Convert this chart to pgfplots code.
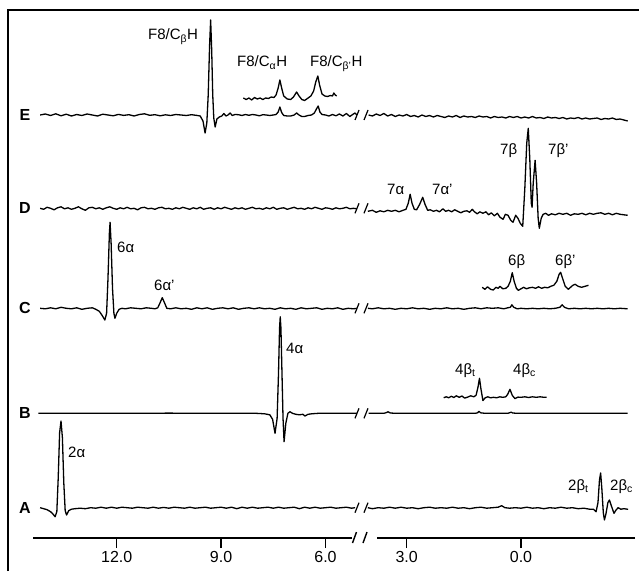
\documentclass[border=0pt]{standalone}
\usepackage{fontspec}
\setmainfont{Liberation Sans}
\usepackage{pgfplots}
\pgfplotsset{compat=1.18}

\pgfplotsset{
  trace/.style={black,line width=1.3pt,line join=round},
  spec/.style={scale only axis,anchor=south west,height=538pt,
    ymin=33,ymax=571,x dir=reverse,clip=false,
    axis x line*=bottom,axis y line=none,
    x axis line style={line width=1.8pt,-},
    tick align=outside,major tick length=10pt,
    every tick/.style={black,line width=1.4pt},
    xticklabel style={font=\fontsize{16}{18}\selectfont},
  },
}
\newcommand\lab[3]{\node[anchor=base west,inner sep=0pt,font=\fontsize{15}{17}\selectfont] at (#1pt,#2pt) {#3};}

\begin{document}
\begin{tikzpicture}
\useasboundingbox (0,0) rectangle (639pt,571pt);
\draw[line width=2pt] (8pt,0pt) -- (8pt,561pt) -- (639pt,561pt);

% left part: 14.4 .. 5.2 ppm
\begin{axis}[spec,at={(33pt,33pt)},width=319pt,xmin=5.238,xmax=14.405,
  xtick={6,9,12},xticklabels={6.0,9.0,12.0}]
% E
\addplot[trace,y filter/.expression={y+456}] coordinates {
(14.2,0) (14.05,1) (13.9,-0.5) (13.75,1.2) (13.6,-0.8) (13.45,0.8) (13.3,-1) (13.15,0.5) (13.0,-0.5) (12.85,1) (12.7,0) (12.55,-1) (12.4,0.8) (12.25,0) (12.1,-0.8) (11.95,0.6) (11.8,-0.4) (11.65,0.3) (11.5,-1) (11.35,0.5) (11.2,1.2) (11.05,-0.3) (10.9,0.3) (10.75,-0.8) (10.6,0.2) (10.45,-0.5) (10.3,0.5) (10.15,0) (10.0,-0.5) (9.85,0.3) (9.7,-0.4) (9.6,-1) (9.52,-6) (9.46,-18) (9.41,-8) (9.37,20) (9.33,70) (9.30,95) (9.27,65) (9.24,20) (9.21,-3) (9.17,-12) (9.12,-4) (9.05,-2) (8.98,-1) (8.92,1.5) (8.86,-1) (8.8,0) (8.74,2) (8.68,-0.5) (8.6,0.5) (8.5,0.3) (8.4,-0.5) (8.3,0.5) (8.2,-0.3) (8.1,0.5) (8.0,0) (7.9,-0.8) (7.8,0.3) (7.7,0) (7.6,-0.5) (7.5,0) (7.42,0.5) (7.36,3) (7.31,8) (7.26,2.5) (7.2,-0.5) (7.1,-1) (7.0,-1) (6.9,0) (6.83,2) (6.76,0) (6.68,-1.5) (6.6,-1.5) (6.5,-0.5) (6.4,0) (6.32,2) (6.26,6) (6.21,9) (6.16,3) (6.1,0.5) (6.0,0) (5.9,-1) (5.8,0.5) (5.7,-0.8) (5.6,1) (5.5,-1) (5.4,1.5) (5.3,-1.5) (5.22,0.5) (5.15,2) (5.1,0)
};
% E, expanded
\addplot[trace,y filter/.expression={y+456}] coordinates {
(8.36,17) (8.28,15.5) (8.2,17) (8.12,15) (8.04,17.5) (7.96,16) (7.88,17) (7.8,15.5) (7.72,17) (7.64,16.5) (7.56,18) (7.48,17.5) (7.42,20) (7.36,27) (7.31,35) (7.26,27) (7.2,19) (7.1,16) (7.0,15.5) (6.92,18) (6.83,23) (6.76,19) (6.68,15.5) (6.6,14.5) (6.5,17) (6.42,19) (6.34,24) (6.28,33) (6.22,39) (6.17,30) (6.1,21) (6.02,19) (5.94,18.5) (5.86,19.5) (5.8,19) (5.76,22) (5.72,20) (5.68,19)
};
% D
\addplot[trace,y filter/.expression={y+362.7}] coordinates {
(14.2,0) (14.1,-1) (14.0,1) (13.9,0) (13.8,-1.5) (13.7,0.5) (13.6,1.5) (13.5,-0.5) (13.4,0.5) (13.3,-1) (13.2,0) (13.1,1.5) (13.0,-0.5) (12.9,-2) (12.8,0.5) (12.7,1) (12.6,-0.5) (12.5,0.5) (12.4,-1) (12.3,0.5) (12.2,1.5) (12.1,0) (12.0,-1) (11.9,0.5) (11.8,-0.5) (11.7,1) (11.6,-0.5) (11.5,0) (11.4,-1.5) (11.3,0.5) (11.2,1) (11.1,-0.5) (11.0,0) (10.9,-1) (10.8,0.5) (10.7,1) (10.6,-0.5) (10.5,0) (10.4,-1) (10.3,0.5) (10.2,-0.5) (10.1,1) (10.0,0) (9.9,-1) (9.8,0.5) (9.7,-0.5) (9.6,1) (9.5,-1) (9.4,0) (9.3,0.5) (9.2,-1) (9.1,0.5) (9.0,-0.5) (8.9,1) (8.8,0) (8.7,-1) (8.6,0.5) (8.5,-0.5) (8.4,0.5) (8.3,-1) (8.2,0) (8.1,1) (8.0,-0.5) (7.9,0) (7.8,-1) (7.7,0.5) (7.6,-0.5) (7.5,1) (7.4,-1) (7.3,0) (7.2,0.5) (7.1,-1) (7.0,0) (6.9,1) (6.8,-0.5) (6.7,0) (6.6,-1) (6.5,0.5) (6.4,-0.5) (6.3,1) (6.2,0) (6.1,-1) (6.0,0.5) (5.9,0) (5.8,-1) (5.7,0.5) (5.6,-0.5) (5.5,0) (5.4,1) (5.3,-0.5) (5.2,0) (5.1,-0.5)
};
% C
\addplot[trace,y filter/.expression={y+262.7}] coordinates {
(14.2,0) (14.05,-0.5) (13.9,0.5) (13.75,-0.5) (13.6,1) (13.45,0) (13.3,-0.5) (13.15,0.5) (13.0,-1) (12.85,0) (12.7,0.5) (12.6,-1) (12.5,-3) (12.42,-7) (12.34,-11.7) (12.29,-5) (12.25,30) (12.21,75) (12.19,86) (12.16,65) (12.12,20) (12.08,-5) (12.05,-10) (12.0,-5) (11.93,-1) (11.85,0) (11.75,-0.5) (11.6,0.5) (11.45,0) (11.3,-0.5) (11.15,0.5) (11.0,0) (10.9,-0.5) (10.82,0.5) (10.76,5) (10.69,10.6) (10.62,5) (10.56,0) (10.45,-0.5) (10.3,0.5) (10.15,-0.5) (10.0,0) (9.85,-1) (9.7,0.5) (9.55,-0.5) (9.4,0.5) (9.25,-1) (9.1,0) (8.95,0.5) (8.8,-0.5) (8.65,0.5) (8.5,-1) (8.35,0) (8.2,0.5) (8.05,-0.5) (7.9,0.5) (7.75,-0.5) (7.6,0) (7.45,-1) (7.3,0.5) (7.15,-0.5) (7.0,0) (6.85,-1) (6.7,0.5) (6.55,-0.5) (6.4,0) (6.25,0.5) (6.1,-1) (5.95,0) (5.8,-0.5) (5.65,0.5) (5.5,-1) (5.35,0) (5.2,-0.5) (5.1,0)
};
% B
\addplot[trace,y filter/.expression={y+157.7}] coordinates {
(14.25,0) (13.0,0) (12.0,0) (11.0,0) (10.5,0.2) (10.0,0) (9.0,0) (8.5,0) (8.0,0) (7.75,-0.5) (7.6,-1.5) (7.52,-6) (7.45,-20) (7.39,-5) (7.35,40) (7.32,85) (7.30,96.6) (7.28,85) (7.25,40) (7.22,-5) (7.19,-28.4) (7.14,-10) (7.08,0) (7.02,1.6) (6.95,0) (6.85,-1) (6.75,-1.5) (6.65,-1) (6.59,-2.7) (6.5,-1) (6.4,-0.5) (6.2,0) (6.0,0) (5.5,0) (5.1,0)
};
% A
\addplot[trace,y filter/.expression={y+63.3}] coordinates {
(14.2,0) (14.1,-1) (14.0,-2) (13.9,-4) (13.84,-6) (13.77,-9) (13.72,-4) (13.68,30) (13.64,75) (13.60,86.7) (13.56,70) (13.52,25) (13.48,-3) (13.44,-7.3) (13.38,-3) (13.3,-1.5) (13.2,-1) (13.05,-0.5) (12.9,-1) (12.75,0) (12.6,-0.5) (12.45,0.5) (12.3,-0.5) (12.15,0.5) (12.0,-0.5) (11.85,0.5) (11.7,0) (11.55,-0.5) (11.4,0.5) (11.25,0) (11.1,-0.5) (10.95,0.5) (10.8,-0.5) (10.65,0.3) (10.5,-0.5) (10.35,0.5) (10.2,0) (10.05,-0.5) (9.9,0.5) (9.75,-0.5) (9.6,0) (9.45,0.5) (9.3,-0.5) (9.15,0) (9.0,0.5) (8.85,-0.5) (8.7,0.5) (8.55,-1) (8.4,0.5) (8.25,-0.5) (8.1,0.5) (7.95,-0.5) (7.8,0) (7.65,0.5) (7.5,-0.5) (7.35,0.5) (7.2,-0.5) (7.05,0) (6.9,0.5) (6.75,-1) (6.6,0.5) (6.45,-0.5) (6.3,0.5) (6.15,-0.5) (6.0,0) (5.85,0.5) (5.7,-0.5) (5.55,0) (5.4,0.5) (5.25,-0.5) (5.15,0)
};
\end{axis}

% right part: 3.8 .. -3.0 ppm
\begin{axis}[spec,at={(377pt,33pt)},width=258pt,xmin=-2.992,xmax=3.78,
  xtick={0,3},xticklabels={0.0,3.0}]
% E
\addplot[trace,y filter/.expression={y+456}] coordinates {
(4.0,0) (3.9,-1) (3.8,1) (3.7,-0.5) (3.6,1.5) (3.5,-1) (3.4,0.5) (3.3,-1.5) (3.2,0) (3.1,-1) (3.0,0.5) (2.9,-1.5) (2.8,-0.5) (2.7,-2) (2.6,0) (2.5,-1.5) (2.4,-0.5) (2.3,-2) (2.2,-0.5) (2.1,-1.5) (2.0,-2.5) (1.9,-1) (1.8,-2) (1.7,-0.5) (1.6,-2.5) (1.5,-1) (1.4,-2) (1.3,-1.5) (1.2,-2.5) (1.1,-1) (1.0,-2) (0.9,-1.5) (0.8,-3) (0.7,-1.5) (0.6,-2.5) (0.5,-2) (0.4,-3) (0.3,-1.5) (0.2,-2.5) (0.1,-1.5) (0.0,-3) (-0.1,-2) (-0.2,-3) (-0.3,-1.5) (-0.4,-3) (-0.5,-2.5) (-0.6,-3.5) (-0.7,-2) (-0.8,-3) (-0.9,-2.5) (-1.0,-3.5) (-1.1,-2.5) (-1.2,-4) (-1.3,-3) (-1.4,-3.5) (-1.5,-2.5) (-1.6,-4) (-1.7,-3) (-1.8,-4) (-1.9,-3.5) (-2.0,-3) (-2.1,-4.5) (-2.2,-3.5) (-2.3,-4) (-2.4,-3) (-2.5,-4.5) (-2.6,-4) (-2.7,-5) (-2.8,-6)
};
% D
\addplot[trace,y filter/.expression={y+362.7}] coordinates {
(4.02,-3) (3.9,-2) (3.8,-4) (3.7,-2.5) (3.6,-3.5) (3.5,-2) (3.4,-3) (3.3,-2) (3.2,-3.5) (3.1,-2) (3.02,-1) (2.96,5) (2.91,14) (2.86,5) (2.8,-1) (2.74,-1.5) (2.66,4) (2.58,11) (2.52,4) (2.45,-2) (2.38,-1.5) (2.3,-3) (2.22,-2) (2.14,-3.5) (2.05,-0.5) (1.98,-3) (1.9,-2) (1.82,-3.5) (1.74,-1.5) (1.66,-3) (1.58,-4.5) (1.5,-3) (1.42,-2.5) (1.35,-4) (1.28,-1) (1.22,-3.5) (1.15,-5.5) (1.08,-3.5) (1.0,-5) (0.92,-3.5) (0.85,-6.5) (0.78,-4.5) (0.7,-7.5) (0.62,-5) (0.55,-9) (0.47,-11) (0.41,-6) (0.34,-7) (0.27,-12) (0.21,-14) (0.14,-7) (0.08,-10) (0.02,-15) (-0.045,-18) (-0.1,20) (-0.15,65) (-0.19,80) (-0.23,50) (-0.27,5) (-0.29,1) (-0.32,25) (-0.37,48) (-0.41,25) (-0.45,-10) (-0.48,-20) (-0.53,-10) (-0.58,-6) (-0.65,-5) (-0.72,-7) (-0.8,-5.5) (-0.9,-6.5) (-1.0,-5) (-1.1,-6) (-1.2,-5) (-1.3,-7) (-1.4,-5.5) (-1.5,-6) (-1.6,-5) (-1.7,-6.5) (-1.8,-5) (-1.9,-6) (-2.0,-5) (-2.1,-4.5) (-2.2,-6) (-2.3,-5) (-2.4,-6.5) (-2.5,-5) (-2.6,-6) (-2.7,-6.5) (-2.8,-7)
};
% C
\addplot[trace,y filter/.expression={y+262.7}] coordinates {
(4.02,0) (3.9,-0.5) (3.75,0.5) (3.6,-0.5) (3.45,0) (3.3,-1) (3.15,0) (3.0,-0.5) (2.85,0.5) (2.7,-0.5) (2.55,0) (2.4,-1) (2.25,0) (2.1,-0.5) (1.95,0.5) (1.8,-0.5) (1.65,0) (1.5,-1) (1.35,0) (1.2,0.5) (1.05,-0.5) (0.9,0.5) (0.75,0) (0.6,0.5) (0.45,-0.5) (0.35,0.5) (0.28,1) (0.24,3.5) (0.19,1) (0.1,-0.5) (0.0,0) (-0.15,-0.5) (-0.3,0) (-0.45,-0.5) (-0.6,0) (-0.75,-0.5) (-0.9,0) (-1.02,1) (-1.08,3.5) (-1.14,1) (-1.25,-0.5) (-1.4,0) (-1.55,-0.5) (-1.7,0) (-1.85,-0.5) (-2.0,0) (-2.15,-0.5) (-2.3,0) (-2.45,-0.5) (-2.6,0) (-2.8,-0.5)
};
% C, expanded
\addplot[trace,y filter/.expression={y+262.7}] coordinates {
(1.02,21) (0.95,19) (0.88,21.5) (0.8,19) (0.73,18.3) (0.66,21) (0.6,20) (0.55,22) (0.48,19.5) (0.4,20) (0.34,22) (0.28,27) (0.23,35.6) (0.18,27) (0.12,20) (0.07,18) (0.0,19.5) (-0.07,21) (-0.14,19.5) (-0.22,20.5) (-0.3,21) (-0.38,20) (-0.46,21.5) (-0.54,20) (-0.62,21) (-0.7,20.5) (-0.78,22) (-0.86,23) (-0.94,27) (-1.0,34) (-1.04,36) (-1.09,30) (-1.16,22) (-1.24,19) (-1.3,21) (-1.36,23) (-1.42,24) (-1.5,22) (-1.59,21) (-1.68,22) (-1.77,23)
};
% B
\addplot[trace,y filter/.expression={y+157.7}] coordinates {
(4.0,0) (3.6,0) (3.55,0.5) (3.49,1.5) (3.43,0.3) (3.3,0) (2.5,0) (1.2,0) (1.14,0.5) (1.10,2) (1.06,0.5) (0.95,0) (0.35,0) (0.3,0.5) (0.26,1.2) (0.22,0.3) (0.1,0) (-2.8,0)
};
% B, expanded
\addplot[trace,y filter/.expression={y+157.7}] coordinates {
(2.03,15.6) (1.96,16.5) (1.9,15.5) (1.83,17) (1.76,15.8) (1.7,17.5) (1.62,16) (1.55,17.3) (1.48,15.2) (1.4,16.2) (1.32,17.5) (1.24,16.5) (1.18,18) (1.13,26) (1.09,35) (1.05,24) (1.0,12.7) (0.94,15.5) (0.87,16.5) (0.8,15.5) (0.72,16) (0.64,15.5) (0.56,16.5) (0.48,16) (0.4,16.5) (0.35,19) (0.29,24) (0.23,18) (0.16,14.7) (0.08,16.2) (0.0,16) (-0.1,16.5) (-0.2,15.8) (-0.3,16.5) (-0.4,16) (-0.5,16.5) (-0.6,16) (-0.67,16)
};
% A
\addplot[trace,y filter/.expression={y+63.3}] coordinates {
(4.02,0) (3.9,-1) (3.75,0) (3.6,-0.5) (3.45,0.5) (3.3,-0.5) (3.15,0.5) (3.0,-0.5) (2.85,0) (2.7,-1) (2.55,0) (2.4,0.5) (2.25,-0.5) (2.1,0) (1.95,-0.5) (1.8,0.5) (1.65,-0.5) (1.5,0) (1.35,-1) (1.2,0) (1.05,0.5) (0.9,-0.5) (0.75,0) (0.6,0.5) (0.51,2) (0.42,0) (0.3,-0.5) (0.15,0) (0.0,-0.5) (-0.15,0.5) (-0.3,-0.5) (-0.45,0) (-0.6,-1) (-0.75,0) (-0.9,-0.5) (-1.05,0.5) (-1.2,-0.5) (-1.35,0) (-1.5,-1) (-1.65,-0.5) (-1.8,-1.5) (-1.9,-1.5) (-1.97,-4) (-2.02,5) (-2.06,28) (-2.09,34.7) (-2.12,20) (-2.16,-5) (-2.19,-12.3) (-2.23,-6) (-2.28,5) (-2.32,7.7) (-2.37,2) (-2.44,-5.6) (-2.5,-2) (-2.55,0) (-2.62,-1.5) (-2.7,-1) (-2.81,-1.6)
};
\end{axis}

% axis break marks
\draw[line width=1.4pt] (352.5pt,28pt) -- (356.5pt,39pt) (363pt,28pt) -- (367pt,39pt);
\foreach \b in {456,362.7,262.7,157.7,63.3}{
  \draw[line width=1.2pt] (355pt,\b pt-5pt) -- (359pt,\b pt+5pt) (364pt,\b pt-5pt) -- (368pt,\b pt+5pt);
}

% trace letters
\foreach \b/\t in {456/E,362.7/D,262.7/C,157.7/B,63.3/A}{
  \node[font=\fontsize{16}{18}\selectfont\bfseries,inner sep=0pt] at (25pt,\b pt) {\t};
}

% peak labels
\lab{148}{531}{F8/C\textsubscript{β}H}
\lab{237}{504}{F8/C\textsubscript{α}H}
\lab{310}{504}{F8/C\textsubscript{β'}H}
\lab{387}{376}{7α}
\lab{432}{376}{7α'}
\lab{500}{416}{7β}
\lab{548}{416}{7β'}
\lab{117}{319}{6α}
\lab{154}{280.5}{6α'}
\lab{508}{305.5}{6β}
\lab{555}{305.5}{6β'}
\lab{286}{218}{4α}
\lab{455}{197}{4β\textsubscript{t}}
\lab{513}{197}{4β\textsubscript{c}}
\lab{68}{114}{2α}
\lab{568}{81}{2β\textsubscript{t}}
\lab{610}{81}{2β\textsubscript{c}}
\end{tikzpicture}
\end{document}
